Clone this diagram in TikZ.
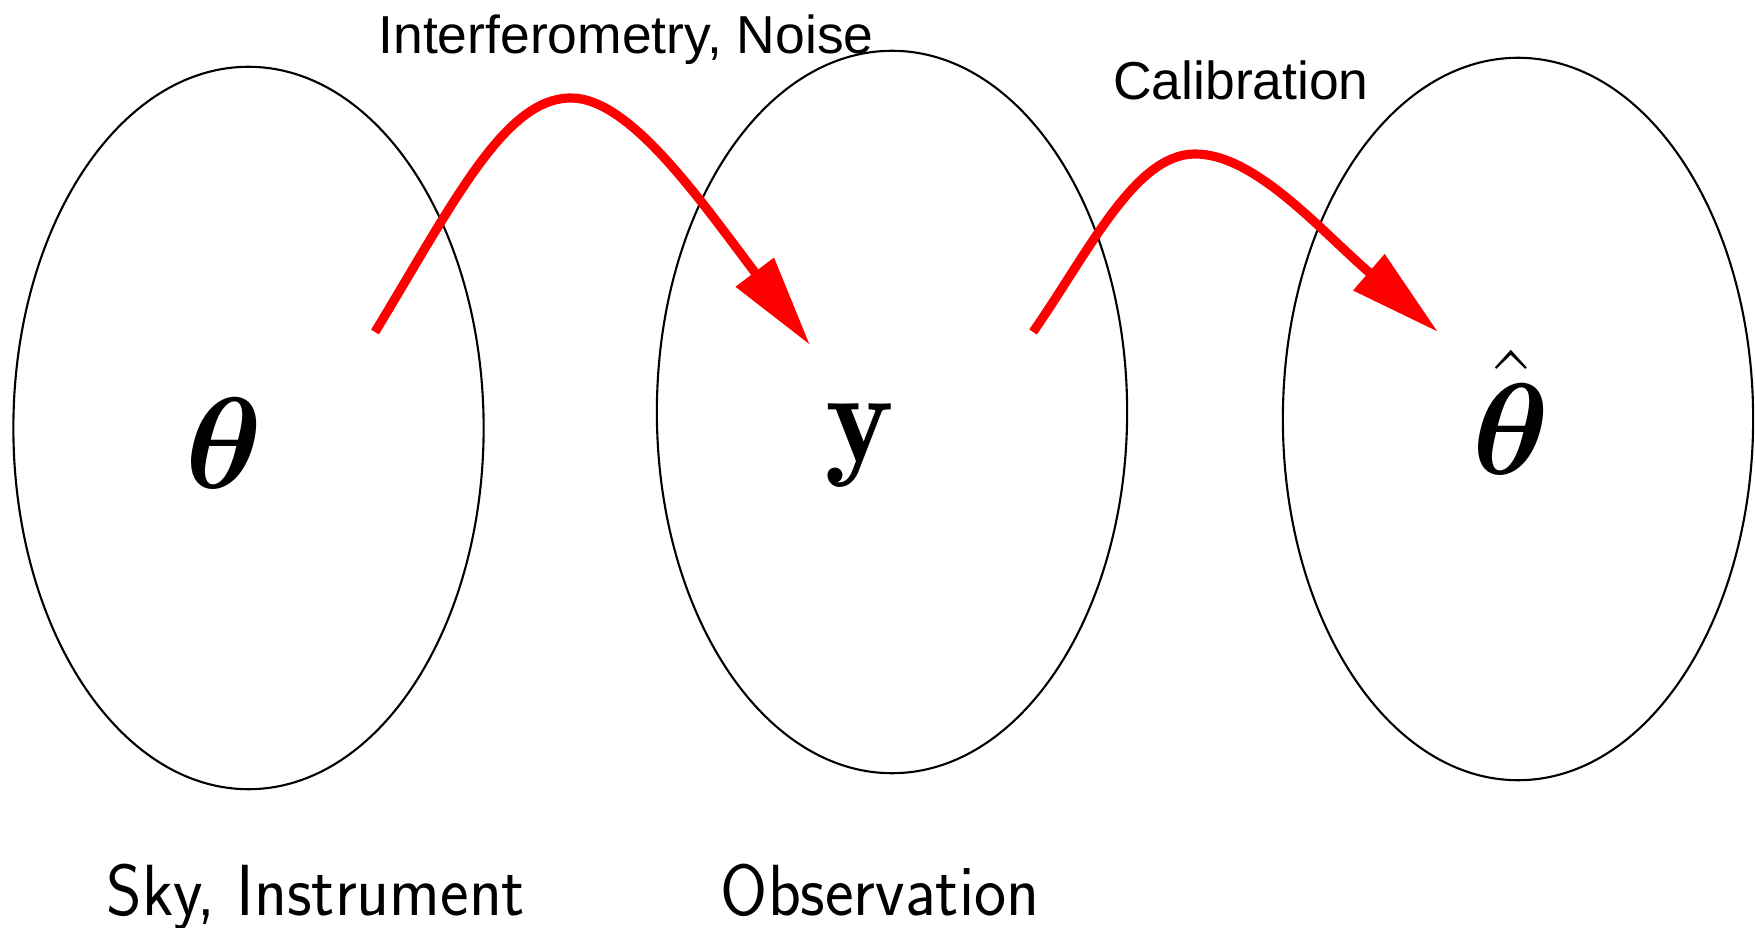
\RequirePackage{fix-cm}
\documentclass[tikz,border=0pt]{standalone}
\usepackage{fontspec}
\usepackage{bm}
\newfontfamily\labelfont{Liberation Sans}
\usetikzlibrary{shapes.geometric,arrows.meta}
\newcommand{\squeezetext}[1]{\scalebox{0.94}[1]{#1}}
\begin{document}
\begin{tikzpicture}[x=0.01cm,y=-0.01cm,
  setbox/.style={draw,ellipse,line width=0.6pt,minimum width=4.70cm,minimum height=7.22cm,inner sep=0pt},
  sym/.style={font=\fontsize{37}{40}\selectfont,inner sep=0pt,anchor=base},
  flow/.style={draw=red,line width=2.6pt,-{Triangle[length=26pt,width=13pt]}},
  toplabel/.style={font=\labelfont\fontsize{15.2}{18}\selectfont,anchor=base,inner sep=0pt},
  botlabel/.style={font=\sffamily\fontsize{20.6}{24}\selectfont,anchor=base,inner sep=0pt}]
\useasboundingbox (0,0) rectangle (1755,928);
% sets
\node[setbox] (e1) at (248.5,428) {};
\node[setbox] (e2) at (892,412) {};
\node[setbox] (e3) at (1518,419) {};
% symbols
\node[sym] (theta) at (224,489) {$\bm{\theta}$};
\node[sym] (y) at (860,462) {$\mathbf{y}$};
\node[sym] (thetahat) at (1511,475) {$\hat{\mbox{$\bm{\theta}$}}$};
% arrow ends
\coordinate (s1) at (375,332);
\coordinate (p1) at (571,98);
\coordinate (t1) at (810,345);
\coordinate (s2) at (1033,332);
\coordinate (p2) at (1195,154);
\coordinate (t2) at (1438,332);
\draw[flow] (s1) .. controls (455,200) and (505,98) .. (p1) .. controls (630,98) and (700,200) .. (t1);
\draw[flow] (s2) .. controls (1090,250) and (1135,154) .. (p2) .. controls (1255,154) and (1320,230) .. (t2);
% labels
\node[toplabel] (l1) at (626,54) {Interferometry, Noise};
\node[toplabel] (l2) at (1241,99.6) {Calibration};
\node[botlabel] (b1) at (316,915.6) {\squeezetext{Sky, Instrument}};
\node[botlabel] (b2) at (880,915.6) {\squeezetext{Observation}};
\end{tikzpicture}
\end{document}
